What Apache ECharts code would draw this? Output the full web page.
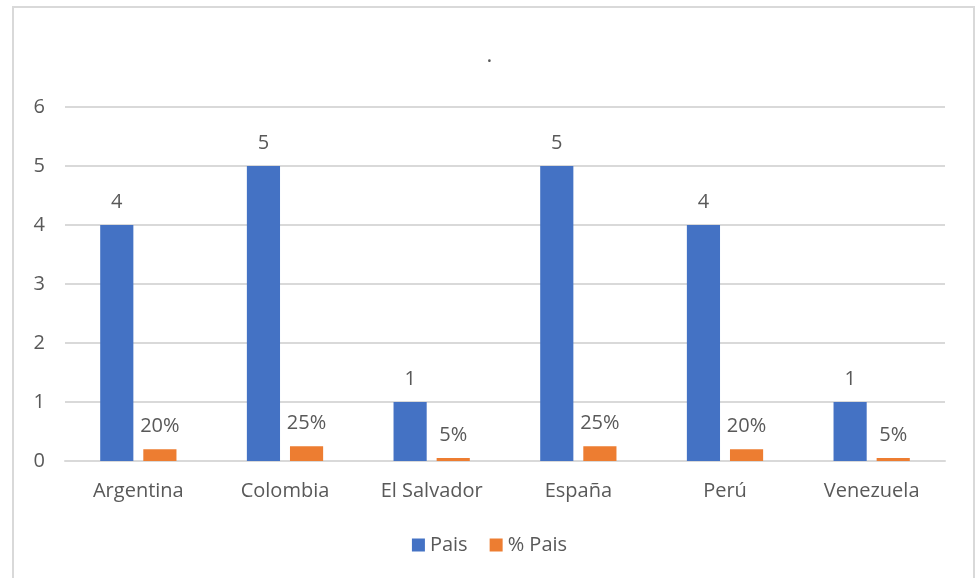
<!DOCTYPE html>
<html>
<head>
    <meta charset="utf-8">
    <title>Pais</title>
    <script src="https://cdn.jsdelivr.net/npm/echarts@6/dist/echarts.min.js"></script>
    <style>
        html, body { margin: 0; padding: 0; background: #fff; }
    </style>
</head>
<body>
<div id="main" style="width: 979px;height:578px;"></div>
<script type="text/javascript">
    var categories = ['Argentina', 'Colombia', 'El Salvador', 'España', 'Perú', 'Venezuela'];
    var paisValues = [4, 5, 1, 5, 4, 1];
    var pctValues = [0.2, 0.25, 0.05, 0.25, 0.2, 0.05];

    var myChart = echarts.init(document.getElementById('main'));
    var fontFam = '"Open Sans", "Liberation Sans", sans-serif';

    var option = {
        backgroundColor: '#fff',
        graphic: [{
            type: 'rect',
            shape: { x: 13, y: 7, width: 961, height: 585 },
            style: { fill: 'none', stroke: '#d9d9d9', lineWidth: 2 },
            silent: true
        }],
        title: {
            text: '.',
            left: 'center',
            top: 40,
            textStyle: { fontSize: 22, color: '#595959', fontWeight: 'normal', fontFamily: fontFam }
        },
        legend: {
            bottom: 18,
            left: 'center',
            itemWidth: 13,
            itemHeight: 13,
            itemGap: 22,
            icon: 'rect',
            textStyle: { fontSize: 20, color: '#595959', fontFamily: fontFam },
            data: ['Pais', '% Pais']
        },
        grid: {
            left: 65,
            right: 34,
            top: 107,
            bottom: 117
        },
        xAxis: {
            type: 'category',
            data: categories,
            axisTick: { show: false },
            axisLine: { lineStyle: { color: '#d9d9d9', width: 2 } },
            axisLabel: { fontSize: 20, color: '#595959', margin: 20, fontFamily: fontFam }
        },
        yAxis: {
            type: 'value',
            min: 0,
            max: 6,
            interval: 1,
            axisLine: { show: false },
            axisTick: { show: false },
            splitLine: { lineStyle: { color: '#d9d9d9', width: 2 } },
            axisLabel: { fontSize: 20, color: '#595959', margin: 20, fontFamily: fontFam }
        },
        series: [{
            name: 'Pais',
            type: 'bar',
            data: paisValues,
            barGap: '30%',
            barCategoryGap: '48%',
            itemStyle: { color: '#4472c4' },
            label: {
                show: true,
                position: 'top',
                distance: 13,
                fontSize: 20,
                color: '#595959',
                fontFamily: fontFam
            }
        }, {
            name: '% Pais',
            type: 'bar',
            data: pctValues,
            itemStyle: { color: '#ed7d31' },
            label: {
                show: true,
                position: 'top',
                distance: 13,
                fontSize: 20,
                color: '#595959',
                fontFamily: fontFam,
                formatter: function (p) {
                    return Math.round(p.value * 100) + '%';
                }
            }
        }]
    };

    myChart.setOption(option);
</script>
</body>
</html>
